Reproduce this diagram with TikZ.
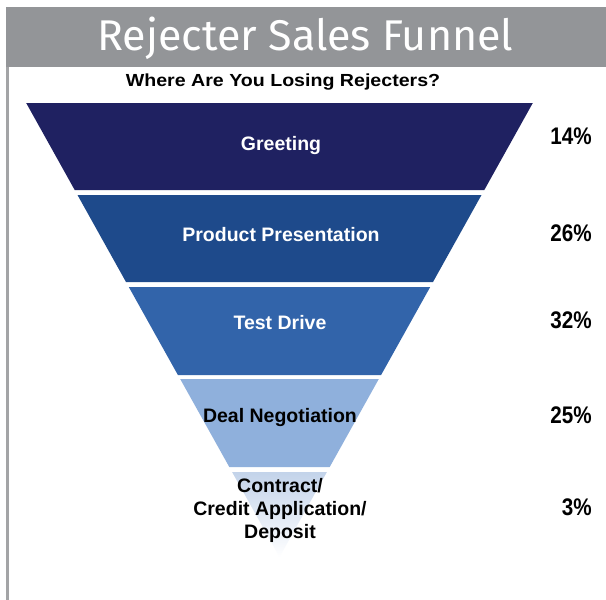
\documentclass[tikz,border=0pt]{standalone}
\usepackage{fontspec}
\setmainfont{Liberation Sans}
\newfontfamily\titlefont{Fira Sans}
\usetikzlibrary{shadings}
\definecolor{barGray}{HTML}{939598}
\definecolor{lineGray}{HTML}{A3A4A6}
\definecolor{bandA}{HTML}{1F2161}
\definecolor{bandB}{HTML}{1E4A8B}
\definecolor{bandC}{HTML}{3264AA}
\definecolor{bandD}{HTML}{8FB0DC}
\definecolor{bandE}{HTML}{C3D3EA}
\tikzset{
  bandtext/.style={font=\fontsize{19.5}{23}\selectfont\bfseries, align=center, inner sep=0pt},
  pcttext/.style={font=\fontsize{24}{28}\selectfont\bfseries, anchor=east, inner sep=0pt},
}
\begin{document}
\begin{tikzpicture}[x=1pt,y=-1pt]
\useasboundingbox (0,0) rectangle (606,600);
\fill[white] (0,0) rectangle (606,600);
% header bar and left rule
\fill[barGray] (6,7) rectangle (606,67);
\fill[lineGray] (6,67) rectangle (9,600);
\node[text=white, font=\titlefont\fontsize{43}{46}\selectfont, inner sep=0pt] (title) at (305.5,38) {Rejecter Sales Funnel};
\node[font=\fontsize{17.5}{20}\selectfont\bfseries, inner sep=0pt] (subtitle) at (283,82) {\scalebox{1.12}[1]{Where Are You Losing Rejecters?}};
% funnel bands
\fill[bandA] (26.2,103) -- (532.8,103) -- (484.3,190) -- (74.7,190) -- cycle;
\fill[bandB] (77.5,195) -- (481.5,195) -- (433.0,282) -- (126.0,282) -- cycle;
\fill[bandC] (128.8,287) -- (430.2,287) -- (381.1,375) -- (177.9,375) -- cycle;
\fill[bandD] (180.2,379) -- (378.8,379) -- (329.7,467) -- (229.3,467) -- cycle;
\shade[top color=bandE, bottom color=white] (232.1,472) -- (326.9,472) -- (279.5,557) -- cycle;
% band labels
\node[bandtext, text=white] (greet) at (281,145) {Greeting};
\node[bandtext, text=white] (prod) at (281,235) {Product Presentation};
\node[bandtext, text=white] (test) at (280,323) {Test Drive};
\node[bandtext, text=black] (deal) at (280,417) {Deal Negotiation};
\node[bandtext, text=black] (contract) at (280,510) {Contract/\\Credit Application/\\Deposit};
% percentages
\node[pcttext] (p1) at (592,136) {\scalebox{0.86}[1]{14\%}};
\node[pcttext] (p2) at (592,233) {\scalebox{0.86}[1]{26\%}};
\node[pcttext] (p3) at (592,320) {\scalebox{0.86}[1]{32\%}};
\node[pcttext] (p4) at (592,415) {\scalebox{0.86}[1]{25\%}};
\node[pcttext] (p5) at (592,507) {\scalebox{0.86}[1]{3\%}};
\end{tikzpicture}
\end{document}
